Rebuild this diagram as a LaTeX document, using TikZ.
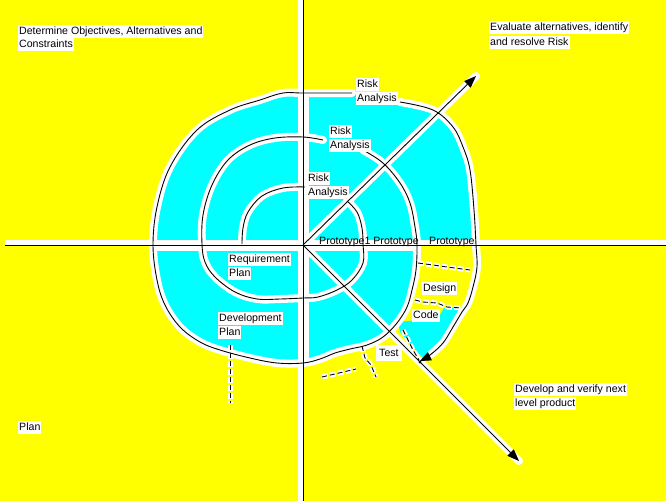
\documentclass[tikz,border=0pt]{standalone}
\usepackage{fontspec}
\setmainfont{Liberation Sans}
\usetikzlibrary{arrows.meta}
\definecolor{bgyellow}{RGB}{255,255,0}
\definecolor{spiralcyan}{RGB}{0,255,255}
\begin{document}
\begin{tikzpicture}[x=1pt,y=-1pt,
  lbl/.style={fill=white, inner xsep=1pt, inner ysep=1.6pt, anchor=base west,
    font=\fontsize{10.6}{13}\selectfont, text height=7.8pt, text depth=2.3pt},
  plainlbl/.style={lbl, fill=none},
  ink/.style={line width=0.9pt, black},
  halo/.style={line width=8pt, white, line cap=round, line join=round},
  dashhalo/.style={line width=5pt, white, dash pattern=on 6pt off 2pt},
  dashink/.style={line width=0.9pt, black, dash pattern=on 5pt off 3pt},
  tip/.style={-{Triangle[length=12pt,width=9pt]}}
]
\useasboundingbox (0,0) rectangle (666,501);
\fill[bgyellow] (0,0) rectangle (666,501);

% named points
\coordinate (O) at (303,245);
\coordinate (N) at (303,0);
\coordinate (S) at (303,501);
\coordinate (W) at (5,245);
\coordinate (E) at (666,245);
\coordinate (NE) at (476,76);
\coordinate (SE) at (519,461);

% cyan body of the spiral
\fill[spiralcyan] plot[smooth,tension=0.6] coordinates {(153,245) (157,207) (170,167) (197,130) (230,110) (260,100) (283,93) (303,93) (350,93) (400,102) (433,110) (453,127) (463,147) (470,170) (474,210) (476,245)}
  -- (417,245) -- plot[smooth,tension=0.6] coordinates {(417,245) (416,270) (412,290) (407,307) (397,323) (383,337) (367,345) (350,349) (335,353) (320,359) (303,363) (277,363) (250,358) (220,350) (200,342) (180,327) (165,305) (157,280) (153,245)} -- cycle;
\fill[spiralcyan] (398,322) -- (438,318) -- (444,308) -- (462,308) -- (452,330) -- (436,350) -- (423,358) -- (412,346) -- (400,332) -- cycle;

% white halos inside the cyan body around the axes
\begin{scope}
\clip plot[smooth,tension=0.6] coordinates {(153,245) (157,207) (170,167) (197,130) (230,110) (260,100) (283,93) (303,93) (350,93) (400,102) (433,110) (453,127) (463,147) (470,170) (474,210) (476,245)}
  -- (417,245) -- plot[smooth,tension=0.6] coordinates {(417,245) (416,270) (412,290) (407,307) (397,323) (383,337) (367,345) (350,349) (335,353) (320,359) (303,363) (277,363) (250,358) (220,350) (200,342) (180,327) (165,305) (157,280) (153,245)} -- cycle;
\draw[line width=11pt, white] (N) -- (S);
\draw[line width=11pt, white] (W) -- (E);
\end{scope}
\fill[white] (298,0) rectangle (303,501);
\fill[white] (5,240) rectangle (666,245);

% halos of curves and diagonals
\draw[halo] (O) -- (NE);
\draw[halo] (O) -- (SE);
\draw[halo] plot[smooth,tension=0.6] coordinates {(305,187) (283,188) (262,196) (248,212) (243,228) (242,244)};
\draw[halo] plot[smooth,tension=0.6] coordinates {(347,201) (357,212) (362,228) (363,244) (363,263) (352,280) (337,290) (318,297) (303,298) (280,299) (257,299) (235,292) (215,277) (205,262) (202,244) (203,215) (212,185) (228,160) (250,145) (275,138) (303,137) (323,140)};
\draw[halo] plot[smooth,tension=0.6] coordinates {(363,150) (383,163) (400,183) (410,203) (415,227) (417,245) (416,270) (412,290) (407,307) (397,323) (383,337) (367,345) (350,349) (335,353) (320,359) (303,363) (277,363) (250,358) (220,350) (200,342) (180,327) (165,305) (157,280) (153,245) (157,207) (170,167) (197,130) (230,110) (260,100) (283,93) (303,93) (352,93)};
\draw[halo] plot[smooth,tension=0.6] coordinates {(400,102) (433,110) (453,127) (463,147) (470,170) (474,210) (476,245) (477,267) (473,287) (468,303) (462,312) (453,327) (443,343) (430,355)};
\draw[dashhalo] (418,263) -- (433,265) -- (447,267) -- (470,270);
\draw[dashhalo] (415,300) -- (423,302) -- (437,303) -- (447,307) -- (462,308);
\draw[dashhalo] (403,330) -- (413,350) -- (419,360);
\draw[dashhalo] (362,346) -- (365,358) -- (371,365) -- (376,377);
\draw[dashhalo] (322,377) -- (356,369);
\draw[dashhalo] (230,345) -- (230,403);

% axes and diagonals
\draw[ink] (N) -- (S);
\draw[ink] (W) -- (E);
\draw[ink,tip] (O) -- (NE);
\draw[ink,tip] (O) -- (SE);

% spiral
\draw[ink] plot[smooth,tension=0.6] coordinates {(305,187) (283,188) (262,196) (248,212) (243,228) (242,244)};
\draw[ink] plot[smooth,tension=0.6] coordinates {(347,201) (357,212) (362,228) (363,244) (363,263) (352,280) (337,290) (318,297) (303,298) (280,299) (257,299) (235,292) (215,277) (205,262) (202,244) (203,215) (212,185) (228,160) (250,145) (275,138) (303,137) (323,140)};
\draw[ink] plot[smooth,tension=0.6] coordinates {(363,150) (383,163) (400,183) (410,203) (415,227) (417,245) (416,270) (412,290) (407,307) (397,323) (383,337) (367,345) (350,349) (335,353) (320,359) (303,363) (277,363) (250,358) (220,350) (200,342) (180,327) (165,305) (157,280) (153,245) (157,207) (170,167) (197,130) (230,110) (260,100) (283,93) (303,93) (352,93)};
\draw[ink,-{Triangle[length=11pt,width=9pt]}] plot[smooth,tension=0.6] coordinates {(400,102) (433,110) (453,127) (463,147) (470,170) (474,210) (476,245) (477,267) (473,287) (468,303) (462,312) (453,327) (443,343) (430,355) (420,361)};

% dashed lines
\draw[dashink] (418,263) -- (433,265) -- (447,267) -- (470,270);
\draw[dashink] (415,300) -- (423,302) -- (437,303) -- (447,307) -- (462,308);
\draw[dashink] (403,330) -- (413,350) -- (419,360);
\draw[dashink] (362,346) -- (365,358) -- (371,365) -- (376,377);
\draw[dashink] (322,377) -- (356,369);
\draw[dashink] (230,345) -- (230,403);
\fill (420,362) circle (1.6pt);

% quadrant labels
\node[lbl] (obj1) at (18,34) {Determine Objectives, Alternatives and};
\node[lbl] (obj2) at (18,47) {Constraints};
\node[lbl] (eval1) at (489,30) {Evaluate alternatives, identify};
\node[lbl] (eval2) at (489,45) {and resolve Risk};
\node[lbl] (dev1) at (514,392) {Develop and verify next};
\node[lbl] (dev2) at (514,406) {level product};
\node[lbl] (plan) at (18,430) {Plan};

% spiral labels
\node[lbl] (ra1) at (356,87) {Risk};
\node[lbl] (ra2) at (356,101) {Analysis};
\node[lbl] (rb1) at (329,134) {Risk};
\node[lbl] (rb2) at (329,148) {Analysis};
\node[lbl] (rc1) at (307,181) {Risk};
\node[lbl] (rc2) at (307,195) {Analysis};
\node[plainlbl] (proto1) at (318,244) {Prototype1 Prototype};
\node[plainlbl] (proto2) at (428,244) {Prototype};
\node[lbl] (req1) at (228,262) {Requirement};
\node[lbl] (req2) at (228,276) {Plan};
\node[lbl] (devp1) at (218,321) {Development};
\node[lbl] (devp2) at (218,335) {Plan};
\node[lbl] (design) at (422,291) {Design};
\node[lbl] (code) at (412,318) {Code};
\node[lbl, inner sep=3pt] (test) at (376,356) {Test};
\end{tikzpicture}
\end{document}
